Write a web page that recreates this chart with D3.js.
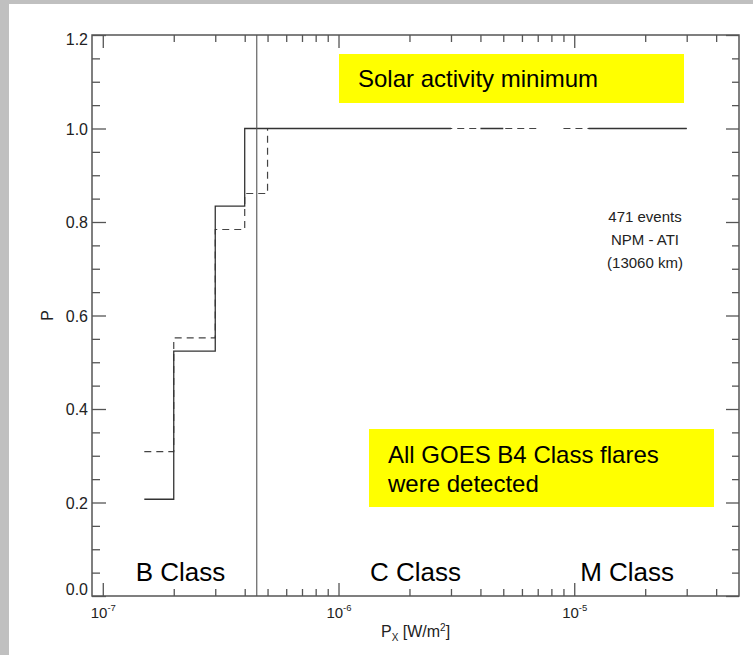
<!DOCTYPE html>
<html>
<head>
<meta charset="utf-8">
<script src="https://cdn.jsdelivr.net/npm/d3@7"></script>
<style>
  body { margin: 0; background: #fff; }
  svg { display: block; font-family: "Liberation Sans", Arial, Helvetica, sans-serif; }
</style>
</head>
<body>
<script>
// bin edges of the flux histogram (W/m^2)
const binEdges = [1.5e-7, 2e-7, 3e-7, 4e-7, 5e-7, 1e-6, 2e-6, 3e-6, 4e-6, 5e-6, 7e-6, 9e-6, 1.15e-5, 3e-5];
// detection probability per bin (null = no events in that bin)
const solidP  = [0.207, 0.524, 0.834, 1.0, 1.0, 1.0, 1.0, null, 1.0, null, null, null, 1.0];
const dashedP = [0.309, 0.552, 0.784, 0.861, 1.0, 1.0, 1.0, 1.0, 1.0, 1.0, null, 1.0, 1.0];

const thresholdFlux = 4.5e-7;
const yTicks = [0.0, 0.2, 0.4, 0.6, 0.8, 1.0, 1.2];
const xDecades = [1e-7, 1e-6, 1e-5];
const xDecadeExp = ["-7", "-6", "-5"];
const classNames = ["B Class", "C Class", "M Class"];
const classAt = [1.38e-7, 1.36e-6, 1.06e-5];
const infoLines = ["471 events", "NPM - ATI", "(13060 km)"];
const topBoxLines = ["Solar activity minimum"];
const bottomBoxLines = ["All GOES B4 Class flares", "were detected"];

const W = 753, H = 655;
const FONT = '"Liberation Sans", Arial, Helvetica, sans-serif';

const svg = d3.select("body")
  .append("svg")
  .attr("width", W)
  .attr("height", H);

// slide background
svg.append("rect").attr("width", W).attr("height", H).attr("fill", "#c0c0c0");
svg.append("rect").attr("x", 9).attr("y", 4).attr("width", W - 9).attr("height", H - 4).attr("fill", "#fff");

const x = d3.scaleLog()
  .domain([9e-8, 5e-5])
  .range([92, 739]);

const y = d3.scaleLinear()
  .domain([0, 1.2])
  .range([596, 35]);

const [x0, x1] = x.range();
const [yb, yt] = y.range();

const xMinor = x.ticks().filter(d => !xDecades.some(t => Math.abs(t - d) / t < 1e-6) && x(d) > x0 + 1 && x(d) < x1 - 1);
const yMinor = y.ticks(24).filter(d => !yTicks.some(t => Math.abs(t - d) < 1e-6));

function styleAxis(g) {
  g.attr("color", "#555").attr("font-family", FONT);
  g.select(".domain").remove();
  g.selectAll(".tick line").attr("stroke-width", 1.3);
}

// bottom axis
const gx = svg.append("g")
  .attr("transform", `translate(0,${yb})`)
  .call(d3.axisBottom(x).tickValues(xDecades).tickSizeInner(-13).tickSizeOuter(0).tickFormat(() => "10"))
  .call(styleAxis);
gx.selectAll(".tick text")
  .attr("y", 22).attr("dy", null).attr("font-size", 15).attr("fill", "#222")
  .each(function(d, i) {
    d3.select(this).append("tspan").attr("dy", -7).attr("font-size", 9.5).text(xDecadeExp[i]);
  });
svg.append("g")
  .attr("transform", `translate(0,${yb})`)
  .call(d3.axisBottom(x).tickValues(xMinor).tickSizeInner(-7).tickSizeOuter(0).tickFormat(""))
  .call(styleAxis);

// top axis
svg.append("g")
  .attr("transform", `translate(0,${yt})`)
  .call(d3.axisTop(x).tickValues(xDecades).tickSizeInner(-13).tickSizeOuter(0).tickFormat(""))
  .call(styleAxis);
svg.append("g")
  .attr("transform", `translate(0,${yt})`)
  .call(d3.axisTop(x).tickValues(xMinor).tickSizeInner(-7).tickSizeOuter(0).tickFormat(""))
  .call(styleAxis);

// left axis
const gy = svg.append("g")
  .attr("transform", `translate(${x0},0)`)
  .call(d3.axisLeft(y).tickValues(yTicks).tickSizeInner(-14).tickSizeOuter(0).tickPadding(4).tickFormat(d3.format(".1f")))
  .call(styleAxis);
gy.selectAll(".tick text")
  .attr("font-size", 16).attr("fill", "#222")
  .attr("dy", d => d === 1.2 ? "0.62em" : d === 0 ? "-0.08em" : "0.35em");
svg.append("g")
  .attr("transform", `translate(${x0},0)`)
  .call(d3.axisLeft(y).tickValues(yMinor).tickSizeInner(-8).tickSizeOuter(0).tickFormat(""))
  .call(styleAxis);

// right axis
svg.append("g")
  .attr("transform", `translate(${x1},0)`)
  .call(d3.axisRight(y).tickValues(yTicks).tickSizeInner(-13).tickSizeOuter(0).tickFormat(""))
  .call(styleAxis);
svg.append("g")
  .attr("transform", `translate(${x1},0)`)
  .call(d3.axisRight(y).tickValues(yMinor).tickSizeInner(-7).tickSizeOuter(0).tickFormat(""))
  .call(styleAxis);

// frame
svg.append("rect")
  .attr("x", x0).attr("y", yt)
  .attr("width", x1 - x0).attr("height", yb - yt)
  .attr("fill", "none")
  .attr("stroke", "#555")
  .attr("stroke-width", 1.5);

// axis titles
svg.append("text")
  .attr("transform", `translate(53,${y(0.6)}) rotate(-90)`)
  .attr("text-anchor", "middle")
  .attr("font-size", 16)
  .attr("fill", "#222")
  .text("P");

const xt = svg.append("text")
  .attr("x", 381).attr("y", 637)
  .attr("font-size", 16)
  .attr("fill", "#222");
xt.append("tspan").text("P");
xt.append("tspan").attr("dy", 4).attr("font-size", 10).text("X");
xt.append("tspan").attr("dy", -4).text(" [W/m");
xt.append("tspan").attr("dy", -6).attr("font-size", 10).text("2");
xt.append("tspan").attr("dy", 6).text("]");

// step curves
function stepPoints(vals) {
  const pts = [];
  vals.forEach((v, i) => {
    if (v == null) { pts.push(null); return; }
    pts.push([binEdges[i], v], [binEdges[i + 1], v]);
  });
  return pts;
}

const stepLine = d3.line()
  .defined(d => d != null)
  .x(d => x(d[0]))
  .y(d => y(d[1]));

svg.append("path")
  .datum(stepPoints(dashedP))
  .attr("fill", "none")
  .attr("stroke", "#444")
  .attr("stroke-width", 1.2)
  .attr("stroke-dasharray", "7,5")
  .attr("d", stepLine);

svg.append("path")
  .datum(stepPoints(solidP))
  .attr("fill", "none")
  .attr("stroke", "#333")
  .attr("stroke-width", 1.3)
  .attr("d", stepLine);

// B/C boundary marker
svg.append("line")
  .attr("x1", x(thresholdFlux)).attr("x2", x(thresholdFlux))
  .attr("y1", yt).attr("y2", yb)
  .attr("stroke", "#555")
  .attr("stroke-width", 1.1);

// event info
svg.selectAll(".info")
  .data(infoLines)
  .join("text")
  .attr("class", "info")
  .attr("x", 645)
  .attr("y", (d, i) => 222 + i * 23)
  .attr("text-anchor", "middle")
  .attr("font-size", 15)
  .attr("fill", "#222")
  .text(d => d);

// flare class labels
svg.selectAll(".cls")
  .data(classNames)
  .join("text")
  .attr("class", "cls")
  .attr("x", (d, i) => x(classAt[i]))
  .attr("y", 581)
  .attr("font-size", 26)
  .attr("fill", "#000")
  .text(d => d);

// yellow note boxes
function noteBox(bx, by, bw, bh, tx, ty, lines) {
  svg.append("rect")
    .attr("x", bx).attr("y", by)
    .attr("width", bw).attr("height", bh)
    .attr("fill", "#ffff00");
  svg.append("g").selectAll("text")
    .data(lines)
    .join("text")
    .attr("x", tx)
    .attr("y", (d, i) => ty + i * 28.5)
    .attr("font-size", 24)
    .attr("fill", "#000")
    .text(d => d);
}

noteBox(339, 54, 345, 49, 358, 87, topBoxLines);
noteBox(369, 429, 345, 78, 388, 463, bottomBoxLines);
</script>
</body>
</html>
